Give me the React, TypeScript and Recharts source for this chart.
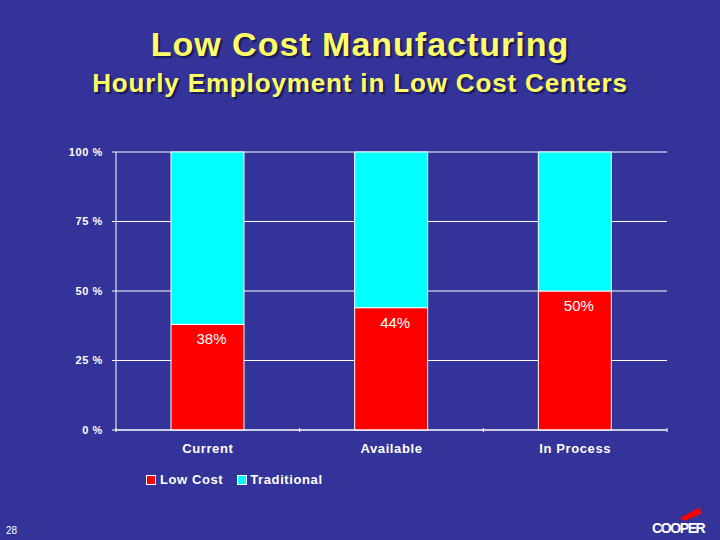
import React from 'react';
import {
  BarChart,
  Bar,
  XAxis,
  YAxis,
  CartesianGrid,
  LabelList,
} from 'recharts';

const categories = ['Current', 'Available', 'In Process'];
const lowCost = [38, 44, 50];
const traditional = [62, 56, 50];
const yTicks = [0, 25, 50, 75, 100];

const data = categories.map((name, i) => ({
  name,
  lowCost: lowCost[i],
  traditional: traditional[i],
}));

const BG = '#333399';
const FONT = 'Arial, "Liberation Sans", sans-serif';

// category labels plus the boundary tick marks between categories
const XTick = (props: any) => {
  const { x, y, payload } = props;
  const half = payload && payload.offset ? payload.offset : 91.8;
  const axisY = y - 8;
  return (
    <g>
      <line x1={x + half} y1={axisY} x2={x + half} y2={axisY + 4} stroke="#fff" />
      {payload.index === 0 && (
        <line x1={x - half} y1={axisY} x2={x - half} y2={axisY + 4} stroke="#fff" />
      )}
      <text
        x={x}
        y={y + 17}
        textAnchor="middle"
        fill="#fff"
        fontFamily={FONT}
        fontWeight="bold"
        fontSize={13}
        letterSpacing={0.6}
      >
        {payload.value}
      </text>
    </g>
  );
};

const PctLabel = (props: any) => {
  const { x, y, width, value } = props;
  return (
    <text
      x={x + width / 2 + 4}
      y={y + 20}
      textAnchor="middle"
      fill="#fff"
      fontFamily={FONT}
      fontSize={15}
    >
      {value}%
    </text>
  );
};

const LegendBox = () => (
  <div
    style={{
      position: 'absolute',
      left: 146,
      top: 472,
      display: 'flex',
      gap: 14,
      fontFamily: FONT,
      fontWeight: 'bold',
      fontSize: 13,
      color: '#fff',
      letterSpacing: 0.6,
    }}
  >
    <span style={{ display: 'flex', alignItems: 'center' }}>
      <span style={{ width: 8, height: 8, background: '#ff0000', border: '1px solid #fff', marginRight: 4 }} />
      Low Cost
    </span>
    <span style={{ display: 'flex', alignItems: 'center' }}>
      <span style={{ width: 8, height: 8, background: '#00ffff', border: '1px solid #fff', marginRight: 3 }} />
      Traditional
    </span>
  </div>
);

const titleStyle: React.CSSProperties = {
  position: 'absolute',
  width: 720,
  textAlign: 'center',
  color: '#ffff66',
  fontWeight: 'bold',
  textShadow: '2px 2px 1px #1a1a55',
  whiteSpace: 'nowrap',
};

const App: React.FC = () => {
  return (
    <div
      style={{
        position: 'absolute',
        left: 0,
        top: 0,
        width: 720,
        height: 540,
        background: BG,
        overflow: 'hidden',
        fontFamily: FONT,
      }}
    >
      <div style={{ ...titleStyle, top: 25, fontSize: 34, letterSpacing: 1 }}>
        Low Cost Manufacturing
      </div>
      <div style={{ ...titleStyle, top: 68, fontSize: 26, letterSpacing: 0.85 }}>
        Hourly Employment in Low Cost Centers
      </div>

      <div style={{ position: 'absolute', left: 0, top: 0 }}>
        <BarChart
          width={720}
          height={540}
          data={data}
          margin={{ top: 152, right: 53, bottom: 80, left: 66 }}
        >
          <CartesianGrid vertical={false} stroke="#fff" strokeOpacity={1} />
          <XAxis
            dataKey="name"
            stroke="#fff"
            tickLine={false}
            tick={<XTick />}
            height={30}
            tickMargin={0}
          />
          <YAxis
            domain={[0, 100]}
            ticks={yTicks}
            stroke="#fff"
            tickSize={4}
            tickMargin={9}
            width={50}
            tickFormatter={(v: number) => `${v} %`}
            tick={{ fill: '#fff', fontSize: 11, fontWeight: 'bold', fontFamily: FONT, letterSpacing: 0.6 }}
            interval={0}
          />
          <Bar
            dataKey="lowCost"
            name="Low Cost"
            stackId="a"
            fill="#ff0000"
            stroke="#fff"
            strokeWidth={1}
            barSize={73}
            isAnimationActive={false}
          >
            <LabelList dataKey="lowCost" content={<PctLabel />} />
          </Bar>
          <Bar
            dataKey="traditional"
            name="Traditional"
            stackId="a"
            fill="#00ffff"
            stroke="#fff"
            strokeWidth={1}
            barSize={73}
            isAnimationActive={false}
          />
        </BarChart>
      </div>

      <LegendBox />

      <div style={{ position: 'absolute', left: 6, top: 525, color: '#fff', fontSize: 10 }}>28</div>

      <svg style={{ position: 'absolute', left: 640, top: 500 }} width={80} height={40}>
        <polygon points="40,18 60,7 61,14 44,21" fill="#ff0000" />
        <text
          x={12}
          y={33}
          fill="#fff"
          fontFamily={FONT}
          fontWeight="bold"
          fontSize={14}
          letterSpacing={-1.4}
        >
          COOPER
        </text>
      </svg>
    </div>
  );
};

export default App;
